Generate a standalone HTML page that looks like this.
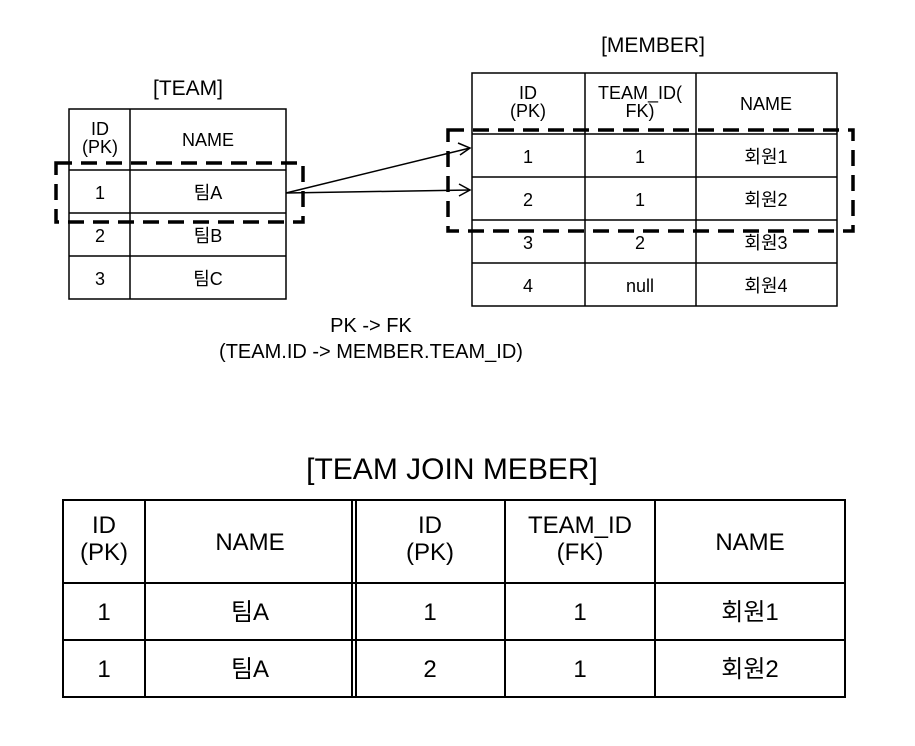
<!DOCTYPE html>
<html><head><meta charset="utf-8"><style>
body{margin:0;width:915px;height:741px;background:#fff;overflow:hidden}
svg text{font-family:"Liberation Sans","Noto Sans CJK KR",sans-serif;fill:#000;text-anchor:middle}
</style></head><body>
<svg width="915" height="741" xmlns="http://www.w3.org/2000/svg">
<g stroke="#000" stroke-width="1.5" fill="none">
<rect x="69" y="109" width="217" height="190"/>
<line x1="130" y1="109" x2="130" y2="299"/>
<line x1="69" y1="170" x2="286" y2="170"/>
<line x1="69" y1="213" x2="286" y2="213"/>
<line x1="69" y1="256" x2="286" y2="256"/>
<rect x="472" y="73" width="365" height="233"/>
<line x1="585" y1="73" x2="585" y2="306"/>
<line x1="696" y1="73" x2="696" y2="306"/>
<line x1="472" y1="134" x2="837" y2="134"/>
<line x1="472" y1="177" x2="837" y2="177"/>
<line x1="472" y1="220" x2="837" y2="220"/>
<line x1="472" y1="263" x2="837" y2="263"/>
<line x1="286" y1="193" x2="470" y2="148"/>
<line x1="286" y1="193" x2="470" y2="190"/>
<polyline points="458,143 470,148 460,155"/>
<polyline points="459,184 470,190 459,196"/>
</g>
<g stroke="#000" stroke-width="3.5" fill="none" stroke-dasharray="16,9">
<rect x="56" y="163" width="247" height="59"/>
<rect x="448" y="130" width="405" height="101"/>
</g>
<g stroke="#000" stroke-width="2" fill="none">
<rect x="63" y="500" width="782" height="197"/>
<line x1="145" y1="500" x2="145" y2="697"/>
<line x1="352" y1="500" x2="352" y2="697"/>
<line x1="356" y1="500" x2="356" y2="697"/>
<line x1="505" y1="500" x2="505" y2="697"/>
<line x1="655" y1="500" x2="655" y2="697"/>
<line x1="63" y1="583" x2="845" y2="583"/>
<line x1="63" y1="640" x2="845" y2="640"/>
</g>
<g font-size="21">
<text x="188" y="95">[TEAM]</text>
<text x="653" y="52">[MEMBER]</text>
</g>
<g font-size="18">
<text x="100" y="135">ID</text><text x="100" y="153">(PK)</text>
<text x="208" y="146">NAME</text>
<text x="100" y="199">1</text><text x="208" y="199">팀A</text>
<text x="100" y="242">2</text><text x="208" y="242">팀B</text>
<text x="100" y="285">3</text><text x="208" y="285">팀C</text>
<text x="528" y="99">ID</text><text x="528" y="117">(PK)</text>
<text x="640" y="99">TEAM_ID(</text><text x="640" y="117">FK)</text>
<text x="766" y="110">NAME</text>
<text x="528" y="163">1</text><text x="640" y="163">1</text><text x="766" y="163">회원1</text>
<text x="528" y="206">2</text><text x="640" y="206">1</text><text x="766" y="206">회원2</text>
<text x="528" y="249">3</text><text x="640" y="249">2</text><text x="766" y="249">회원3</text>
<text x="528" y="292">4</text><text x="640" y="292">null</text><text x="766" y="292">회원4</text>
</g>
<g font-size="20">
<text x="371" y="332">PK -&gt; FK</text>
<text x="371" y="358">(TEAM.ID -&gt; MEMBER.TEAM_ID)</text>
</g>
<text x="452" y="479" font-size="30">[TEAM JOIN MEBER]</text>
<g font-size="24">
<text x="104" y="533">ID</text><text x="104" y="560">(PK)</text>
<text x="250" y="550">NAME</text>
<text x="430" y="533">ID</text><text x="430" y="560">(PK)</text>
<text x="580" y="533">TEAM_ID</text><text x="580" y="560">(FK)</text>
<text x="750" y="550">NAME</text>
<text x="104" y="620">1</text><text x="250" y="620">팀A</text><text x="430" y="620">1</text><text x="580" y="620">1</text><text x="750" y="620">회원1</text>
<text x="104" y="677">1</text><text x="250" y="677">팀A</text><text x="430" y="677">2</text><text x="580" y="677">1</text><text x="750" y="677">회원2</text>
</g>
</svg>
</body></html>
